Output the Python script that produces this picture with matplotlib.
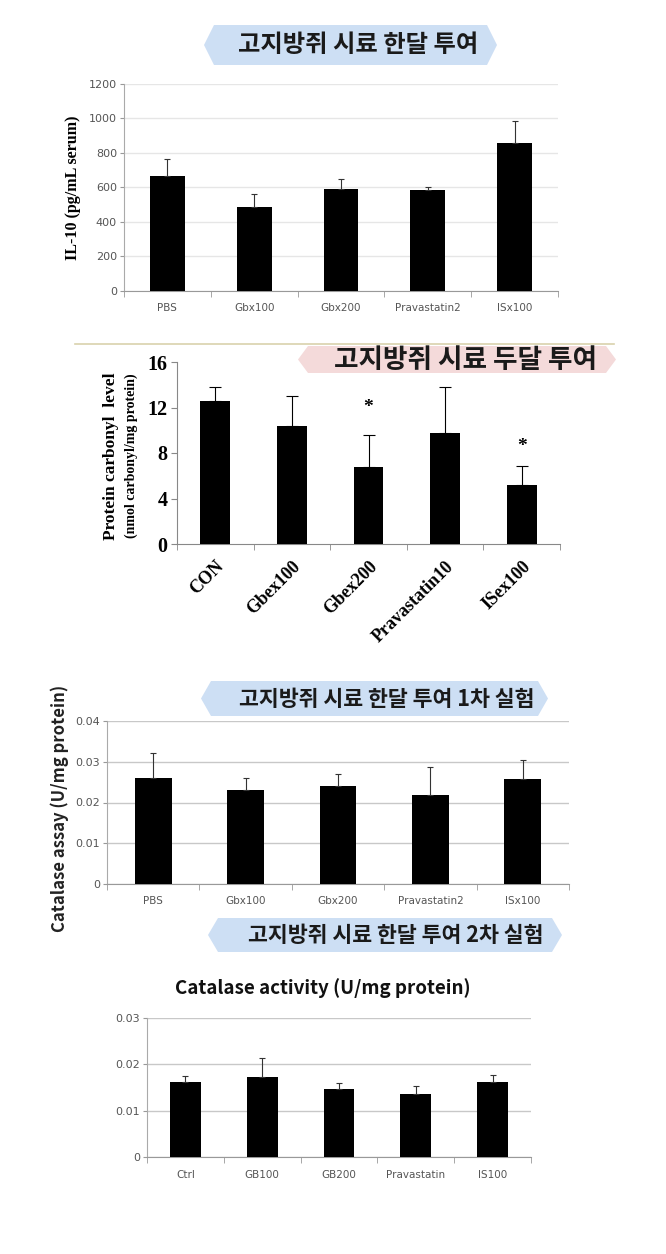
import matplotlib
matplotlib.use("Agg")
import matplotlib.pyplot as plt
from matplotlib.patches import Polygon
from matplotlib.transforms import ScaledTranslation
import numpy as np

W, H = 666, 1254

# ---- data ----
cats1 = ["PBS", "Gbx100", "Gbx200", "Pravastatin2", "ISx100"]
il10 = [668, 488, 592, 586, 859]
il10_err = [100, 73, 58, 14, 127]

cats2 = ["CON", "Gbex100", "Gbex200", "Pravastatin10", "ISex100"]
carbonyl = [12.6, 10.4, 6.8, 9.8, 5.15]
carbonyl_err = [1.2, 2.6, 2.8, 4.0, 1.7]
star_idx = [2, 4]
star_y = [12.0, 8.6]

cats3 = ["PBS", "Gbx100", "Gbx200", "Pravastatin2", "ISx100"]
cat1 = [0.0260, 0.0231, 0.0240, 0.0218, 0.0257]
cat1_err = [0.0062, 0.0029, 0.0030, 0.0069, 0.0047]

cats4 = ["Ctrl", "GB100", "GB200", "Pravastatin", "IS100"]
cat2 = [0.0162, 0.0172, 0.0146, 0.0135, 0.0161]
cat2_err = [0.0012, 0.0041, 0.0013, 0.0019, 0.0017]

KR = ["Noto Sans CJK KR", "DejaVu Sans"]

fig = plt.figure(figsize=(W / 100, H / 100), dpi=100)


def add_ax(x0, y0, x1, y1):
    return fig.add_axes([x0 / W, 1 - y1 / H, (x1 - x0) / W, (y1 - y0) / H])


def fx(x):
    return x / W


def fy(y):
    return 1 - y / H


def banner(x0, y0, x1, y1, color, text, tx, ty, size):
    ym = (y0 + y1) / 2
    d = 10
    pts = [(x0, ym), (x0 + d, y0), (x1 - d, y0), (x1, ym), (x1 - d, y1), (x0 + d, y1)]
    poly = Polygon([(fx(a), fy(b)) for a, b in pts], closed=True,
                   transform=fig.transFigure, facecolor=color, edgecolor="none", zorder=0)
    fig.patches.append(poly)
    fig.text(fx(tx), fy(ty), text, family=KR, fontweight="bold", fontsize=size,
             ha="center", va="center", color="#1a1a1a")


def excel_axes(ax, cats, vals, errs, ymax, step, gridc, fmt, tickfs=8):
    x = np.arange(len(cats))
    ax.bar(x, vals, width=0.4, color="black", zorder=3)
    ax.errorbar(x, vals, yerr=[np.zeros(len(vals)), errs], fmt="none",
                ecolor="#333333", elinewidth=0.8, capsize=2.5, capthick=0.8, zorder=4)
    ax.set_xlim(-0.5, len(cats) - 0.5)
    ax.set_ylim(0, ymax)
    yt = np.arange(0, ymax + step / 2, step)
    ax.set_yticks(yt)
    ax.set_yticklabels([fmt(v) for v in yt], fontsize=tickfs, color="#555555")
    ax.set_xticks(x)
    ax.set_xticklabels(cats, fontsize=tickfs - 0.5, color="#555555")
    ax.set_xticks(np.arange(len(cats) + 1) - 0.5, minor=True)
    ax.tick_params(axis="x", which="major", length=0, pad=9)
    ax.tick_params(axis="x", which="minor", length=4, color="#999999")
    ax.tick_params(axis="y", length=3, color="#999999", pad=2)
    ax.grid(axis="y", color=gridc, linewidth=1.0, zorder=0)
    ax.set_axisbelow(True)
    for s in ("top", "right"):
        ax.spines[s].set_visible(False)
    ax.spines["left"].set_color("#aaaaaa")
    ax.spines["bottom"].set_color("#999999")


# ---- Panel 1 ----
banner(204, 25, 497, 65, "#cddff4", "고지방쥐 시료 한달 투여", 358, 45, 17.5)
ax1 = add_ax(124, 84, 558, 291)
excel_axes(ax1, cats1, il10, il10_err, 1200, 200, "#e6e6e6", lambda v: f"{int(v)}")
fig.text(fx(73), fy(188), "IL-10 (pg/mL serum)", rotation=90, ha="center", va="center",
         family="Liberation Serif", fontweight="bold", fontsize=11.5)

# ---- Panel 2 ----
fig.add_artist(plt.Line2D([fx(75), fx(614)], [fy(344), fy(344)], color="#d9d2ad",
                          linewidth=1.2, transform=fig.transFigure))
banner(298, 346, 616, 373, "#f4dada", "고지방쥐 시료 두달 투여", 466, 361, 19.2)
ax2 = add_ax(177, 362, 560, 544)
x2 = np.arange(len(cats2))
ax2.bar(x2, carbonyl, width=0.39, color="black", zorder=3)
ax2.errorbar(x2, carbonyl, yerr=[np.zeros(5), carbonyl_err], fmt="none", ecolor="black",
             elinewidth=0.8, capsize=4, capthick=0.8, zorder=4)
for i, yv in zip(star_idx, star_y):
    ax2.text(i, yv, "*", ha="center", va="center", fontsize=14,
             family="Liberation Serif", fontweight="bold")
ax2.set_xlim(-0.5, 4.5)
ax2.set_ylim(0, 16)
ax2.set_yticks([0, 4, 8, 12, 16])
ax2.set_yticklabels(["0", "4", "8", "12", "16"], family="Liberation Serif",
                    fontweight="bold", fontsize=14.5)
ax2.set_xticks(x2)
ax2.set_xticklabels(cats2, family="Liberation Serif", fontweight="bold", fontsize=13,
                    rotation=45, ha="right", rotation_mode="anchor")
off = ScaledTranslation(-6 / 100, 0, fig.dpi_scale_trans)
for lab in ax2.get_xticklabels():
    lab.set_transform(lab.get_transform() + off)
ax2.set_xticks(np.arange(6) - 0.5, minor=True)
ax2.tick_params(axis="x", which="major", length=0, pad=10)
ax2.tick_params(axis="x", which="minor", length=4, color="#888888")
ax2.tick_params(axis="y", length=4, color="#888888", pad=3)
for s in ("top", "right"):
    ax2.spines[s].set_visible(False)
ax2.spines["left"].set_color("#888888")
ax2.spines["bottom"].set_color("#888888")
fig.text(fx(111), fy(456), "Protein carbonyl  level", rotation=90, ha="center",
         va="center", family="Liberation Serif", fontweight="bold", fontsize=12.5)
fig.text(fx(131), fy(456), "(nmol carbonyl/mg protein)", rotation=90, ha="center",
         va="center", family="Liberation Serif", fontweight="bold", fontsize=10)

# ---- Panel 3 ----
banner(201, 681, 548, 716, "#cddff4", "고지방쥐 시료 한달 투여 1차 실험", 387, 699, 15.6)
ax3 = add_ax(107, 721, 569, 884)
excel_axes(ax3, cats3, cat1, cat1_err, 0.04, 0.01, "#c8c8c8",
           lambda v: "0" if v == 0 else f"{v:.2f}")
fig.text(fx(60), fy(808), "Catalase assay (U/mg protein)", rotation=90, ha="center",
         va="center", family=KR, fontweight="bold", fontsize=12,
         color="#222222")

# ---- Panel 4 ----
banner(208, 918, 562, 952, "#cddff4", "고지방쥐 시료 한달 투여 2차 실험", 396, 935, 15.6)
fig.text(fx(323), fy(988), "Catalase activity (U/mg protein)", ha="center", va="center",
         family=KR, fontweight="bold", fontsize=13.5, color="#111111")
ax4 = add_ax(147, 1018, 531, 1157)
excel_axes(ax4, cats4, cat2, cat2_err, 0.03, 0.01, "#c8c8c8",
           lambda v: "0" if v == 0 else f"{v:.2f}")

fig.savefig("out.png", dpi=100)
